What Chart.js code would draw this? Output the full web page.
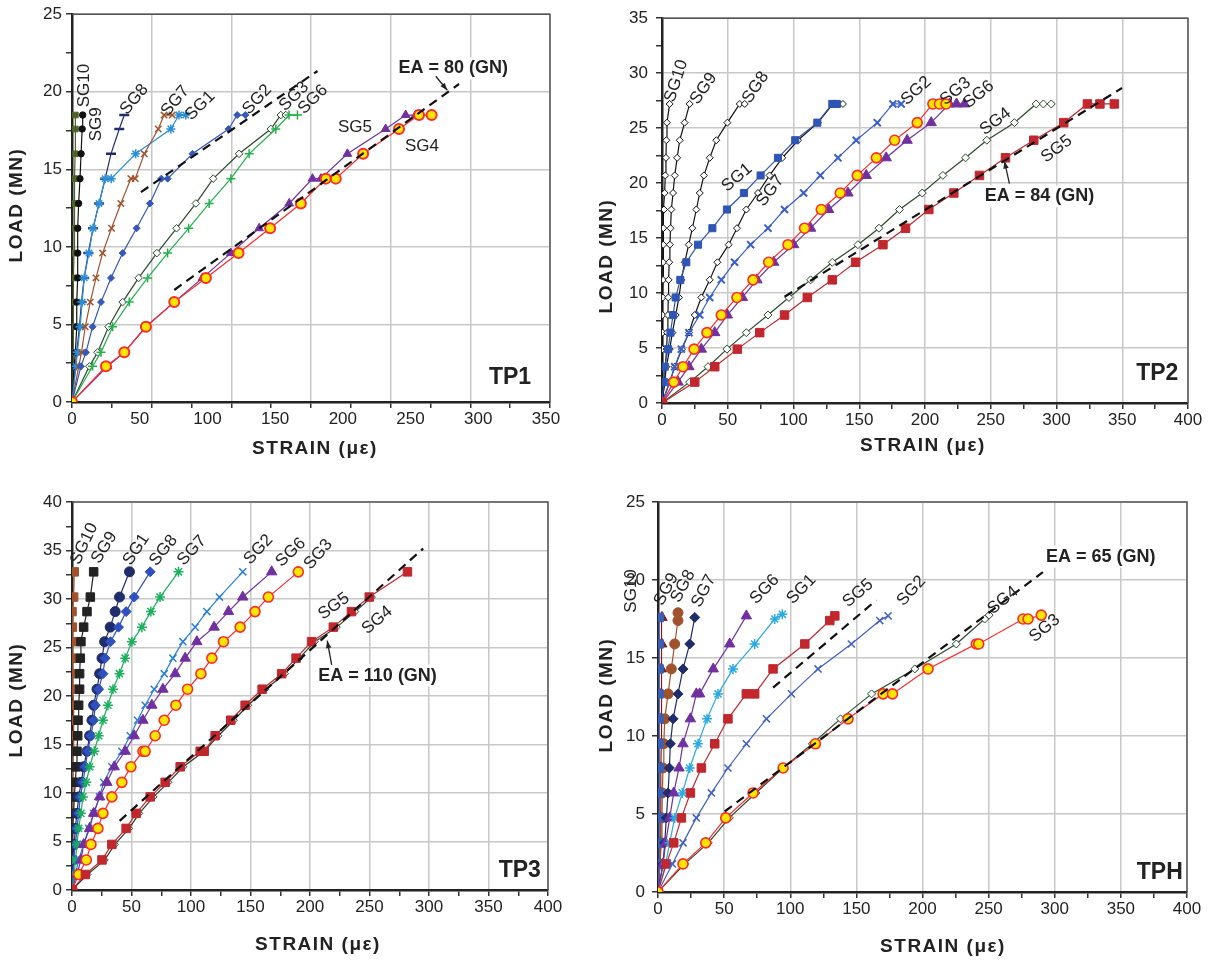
<!DOCTYPE html>
<html>
<head>
<meta charset="utf-8">
<script src="https://cdn.jsdelivr.net/npm/chart.js@4.4.1/dist/chart.umd.min.js"></script>
<style>
html, body { margin: 0; padding: 0; background: #fff; }
body { width: 1218px; height: 960px; position: relative; overflow: hidden; }
canvas { position: absolute; }
</style>
</head>
<body>
<canvas id="tp1" width="590" height="480" style="left:0px;top:0px"></canvas>
<canvas id="tp2" width="628" height="480" style="left:590px;top:0px"></canvas>
<canvas id="tp3" width="590" height="480" style="left:0px;top:480px"></canvas>
<canvas id="tph" width="628" height="480" style="left:590px;top:480px"></canvas>
<script>
// ---------- TP1 (strain in microstrain, load in MN) ----------
var tp1Load = [0, 2.3, 3.2, 4.85, 6.44, 8.0, 9.6, 11.2, 12.8, 14.4, 16.0, 17.6, 18.5];
var tp1LoadHold = [0, 2.3, 3.2, 4.85, 6.44, 8.0, 9.6, 11.2, 12.8, 14.4, 14.4, 16.0, 17.6, 18.5, 18.5];
var tp1LoadTop = [0, 2.3, 3.2, 4.85, 6.44, 8.0, 9.6, 11.2, 12.8, 14.4, 16.0, 17.6, 18.5, 18.5];
var tp1Sg10 = [0, 1, 1, 1, 1, 1.2, 1.5, 1.8, 1.8, 2, 2.3, 2.5, 2.5];
var tp1Sg9 = [0, 1.5, 2.5, 3.5, 3.5, 4.2, 4.2, 4.2, 4.9, 5.9, 6.7, 7.5, 7.9];
var tp1Sg8 = [0, 2.5, 3.5, 5.5, 7, 9, 12, 15.5, 20, 24.5, 28.8, 34.9, 38.6];
var tp1Sg1 = [0, 3, 4, 6, 7.5, 9, 12.5, 15.5, 20, 24.5, 29, 47, 73, 79, 84];
var tp1Sg7 = [0, 5, 7, 9.8, 13.5, 17.7, 22.6, 29.2, 36.1, 43.5, 46.7, 53.4, 63.7, 68, 74];
var tp1Sg2 = [0, 6.6, 10.3, 15.2, 21.4, 28.8, 37.4, 47.7, 57.5, 66, 70.6, 89, 115.6, 122, 128];
var tp1Sg3 = [0, 12.8, 18.9, 27, 37.4, 49.2, 62.7, 77.2, 91.5, 104.3, 123.4, 146.8, 154.2, 157.9];
var tp1Sg6 = [0, 15.2, 21.4, 30, 42.3, 55.8, 70.6, 86.1, 101.3, 117.3, 130.8, 150.5, 160.3, 166.5];
var tp1Sg5 = [0, 26.3, 38.6, 54.6, 75.5, 96.4, 117.3, 138.2, 160.4, 177.6, 183.8, 203.4, 231.6, 246.4, 253.8];
var tp1Sg4 = [0, 25.1, 38.6, 54.6, 75.5, 98.9, 123, 146.3, 169, 187.4, 194.8, 215, 241.5, 256.3, 265.6];
var tp1FitA = [50.9, 181.3], tp1FitALoad = [13.53, 21.34];
var tp1FitB = [75.5, 285.8], tp1FitBLoad = [7.22, 20.5];

// ---------- TP2 ----------
var tp2Load = [0, 1.9, 3.3, 4.9, 6.4, 8, 9.6, 11.2, 12.8, 14.4, 15.9, 17.6, 19.1, 20.7, 22.3, 23.9, 25.5, 27.2];
var tp2LoadTop2 = tp2Load.concat([27.2]);
var tp2LoadTop3 = tp2Load.concat([27.2, 27.2]);
var tp2Sg10 = [0, 0.3, 0.3, 0.5, 0.5, 0.5, 0.6, 0.8, 0.8, 1, 1, 1.5, 2, 2.5, 3, 3.3, 3.8, 5.8];
var tp2Sg9 = [0, 2, 2.5, 3.5, 4, 4.5, 4.8, 5, 5.5, 6, 6.5, 7.1, 8.4, 9.7, 11.5, 13.5, 17.2, 21];
var tp2Sg8 = [0, 2.05, 3.3, 5.85, 7.9, 10.4, 12.9, 14.7, 17.3, 20.3, 23.1, 26.1, 28.7, 31.9, 36.3, 41.3, 49.7, 59.1, 62.9];
var tp2Sg7 = [0, 5.85, 9.66, 15.2, 20.5, 24.9, 29.9, 36.3, 42.1, 50.7, 57, 64.1, 73, 81.8, 91.5, 103.4, 118.6, 130, 137.6];
var tp2Sg1 = [0, 1.3, 2.05, 4.6, 6.4, 8.4, 10.4, 13.9, 18.5, 27.4, 38.3, 49.4, 62.3, 75, 88.2, 101.3, 118.1, 129.5, 133];
var tp2Sg2 = [0, 5.85, 9.66, 14.7, 20.5, 28.7, 36.3, 45.1, 55.2, 67.4, 80.6, 93.2, 107.7, 120.4, 133.8, 147.7, 163.7, 175.6, 181.9];
var tp2Sg3 = [0, 8.9, 16, 24.4, 34.2, 45.1, 57, 69.2, 81.1, 95.8, 108.4, 121.1, 135.6, 148.5, 163, 176.9, 194.1, 206, 211, 216];
var tp2Sg6 = [0, 12.2, 20.5, 29.9, 40.1, 49.7, 61.1, 72.2, 84.9, 100.1, 113, 126.7, 141.4, 155.3, 170.5, 186.4, 204.7, 218.6, 224, 230];
var tp2Sg4 = [0, 21, 35, 49.4, 64.1, 80.6, 96.5, 113, 129.5, 149, 165, 180.6, 197.9, 213.6, 230.8, 247, 268, 284.5, 290, 296];
var tp2Sg5 = [0, 24.9, 40.1, 57.3, 74.3, 93.2, 110.5, 129.5, 147.2, 168, 185.2, 202.9, 221.9, 241.4, 261.2, 282.7, 305.5, 323.5, 333, 344];
var tp2Fit = [93.2, 349.8], tp2FitLoad = [9.66, 28.65];

// ---------- TP3 ----------
var tp3Load = [0, 1.6, 3.1, 4.7, 6.35, 7.9, 9.6, 11.1, 12.7, 14.3, 15.9, 17.5, 19.05, 20.7, 22.3, 23.9, 25.6, 27.1, 28.7, 30.2, 32.8];
var tp3LoadHold = [0, 1.6, 3.1, 4.7, 6.35, 7.9, 9.6, 11.1, 12.7, 14.3, 14.3, 15.9, 17.5, 19.05, 20.7, 22.3, 23.9, 25.6, 27.1, 28.7, 30.2, 32.8];
var tp3LoadSg4 = tp3Load.slice(0, 20);
var tp3Sg10 = [0, 0, 0, 0.3, 0.5, 0.5, 0.5, 0.8, 0.8, 1, 1.4, 1.4, 1.4, 0.2, 0.3, 0.3, 0.3, 0.3, 0, 1.4, 1.9];
var tp3Sg9 = [0, 0, 0, 0, 0.8, 1.4, 1.9, 2.8, 3.6, 4.2, 4.8, 5.1, 5.6, 6.4, 6.4, 7, 7.5, 9.8, 12.6, 15.4, 18.2];
var tp3Sg1 = [0, 0, 0.8, 1.9, 2.8, 4.2, 5.6, 7.8, 9.8, 12.6, 14.8, 16.8, 18.2, 21, 23.2, 25.2, 27.4, 32.1, 36.3, 39.9, 48.3];
var tp3Sg8 = [0, 0.8, 1.4, 2.8, 4.2, 5.6, 7, 9.2, 11.2, 13.2, 15.9, 18.2, 19.6, 22.4, 26, 27.9, 32.4, 39.1, 45.5, 52.3, 65.7];
var tp3Sg7 = [0, 1.9, 2.8, 4.2, 5.6, 7.5, 9.2, 12, 14.8, 18.7, 22.4, 26, 30.2, 34.4, 39.9, 44.7, 50.3, 58.7, 66.3, 74, 89.5];
var tp3Sg2 = [0, 2.8, 5.6, 9.8, 14, 18.2, 23.2, 26.6, 33.5, 41.9, 48.9, 55.1, 61.5, 69.1, 77.5, 84.8, 93.2, 103.5, 113.3, 123.9, 143.5];
var tp3Sg6 = [0, 4.2, 7.5, 9.8, 14.8, 18.2, 23.2, 29.3, 35.5, 44.7, 52.3, 59.6, 67.1, 76.4, 86.7, 95.1, 104.9, 119.4, 131.5, 143.5, 167.8];
var tp3Sg3 = [0, 5.6, 12, 15.9, 21.8, 26, 33.5, 41.9, 49.5, 59.6, 61.5, 69.9, 77.5, 87.3, 97.1, 108.3, 117.5, 127.3, 141.3, 153.8, 165, 190.2];
var tp3Sg5 = [0, 11.2, 25.2, 33.5, 45.5, 53.9, 65.7, 78.3, 90.9, 107.7, 111.1, 120.3, 133.4, 145.5, 159.8, 176.2, 188.3, 201.3, 219.6, 234.8, 249.8, 281.9];
var tp3Sg4 = [0, 13, 27.5, 36, 48, 56.5, 68.5, 81, 93.5, 111, 123, 136, 148, 162.5, 179, 191, 204, 222.5, 238, 252];
var tp3Fit = [40, 295.1], tp3FitLoad = [7.13, 35.2];

// ---------- TPH ----------
var tphLoad = [0, 1.8, 3.15, 4.75, 6.35, 7.95, 9.5, 11.1, 12.7, 14.3, 15.9, 17.6];
var tphSg10 = [0, 0.8, 0.8, 0.8, 0.8, 0.8, 0.8, 0.8, 0.8, 0.8, 0.8, 1];
var tphSg9 = [0, 1.5, 1.8, 2, 2.2, 2.2, 2.5, 2.5, 2.5, 2.5, 2.8, 3];
var tphSg7 = [0, 3.8, 5.1, 6.3, 7.6, 8.6, 9.35, 11.4, 15.1, 18.9, 24, 27.8];
var tphSg8Load = [0, 1.8, 3.15, 4.75, 6.35, 7.95, 9.5, 11.1, 12.7, 14.3, 15.9, 17.4, 17.9];
var tphSg8 = [0, 1.5, 2.5, 3, 3.3, 3.8, 4.4, 5.1, 7.6, 10.1, 12.6, 15.1, 15.1];
var tphSg6Load = [0, 1.8, 3.15, 4.75, 6.35, 7.95, 9.5, 11.1, 12.7, 12.7, 14.3, 15.9, 17.7];
var tphSg6 = [0, 3.8, 5.8, 8.85, 11.9, 15.9, 18.9, 24.5, 29, 31.5, 41.8, 54.2, 66.8];
var tphSg1Load = [0, 1.8, 3.15, 4.75, 6.35, 7.95, 9.5, 11.1, 12.7, 14.3, 15.9, 17.5, 17.8];
var tphSg1 = [0, 5.8, 8.85, 12.6, 18.4, 24, 30.3, 37.1, 45.4, 56.7, 73.1, 88.3, 94];
var tphSg5Load = [0, 1.8, 3.15, 4.75, 6.35, 7.95, 9.5, 11.1, 12.7, 12.7, 14.3, 15.9, 17.4, 17.7];
var tphSg5 = [0, 6.3, 11.9, 17.7, 24.5, 32.8, 42.9, 52.9, 66.8, 73.1, 87, 111, 129.9, 133.7];
var tphSg2Load = [0, 1.8, 3.15, 4.75, 6.35, 7.95, 9.5, 11.1, 12.7, 14.3, 15.9, 17.4, 17.7];
var tphSg2 = [0, 10.9, 18.9, 29, 40.4, 52.9, 66.8, 82, 100.9, 121, 146.2, 167.7, 174];
var tphSg3Load = [0, 1.8, 3.15, 4.75, 6.35, 7.95, 9.5, 11.1, 12.7, 12.7, 14.3, 15.9, 15.9, 17.5, 17.5, 17.75];
var tphSg3 = [0, 18.9, 36.1, 51.2, 71.9, 94.6, 119, 143.7, 170.2, 177.3, 204.2, 240.7, 242.5, 276, 279.8, 289.8];
var tphSg4Load = [0, 1.8, 3.15, 4.75, 6.35, 7.95, 9.5, 11.1, 12.7, 14.3, 15.9, 17.5, 17.75];
var tphSg4 = [0, 20.2, 38, 53.9, 74, 94.6, 116.7, 138, 161.5, 194.2, 225.6, 247, 250.4];
var tphFitA = [50.4, 291], tphFitALoad = [5.16, 20.5];
var tphFitB = [87, 165], tphFitBLoad = [13.1, 18.7];

var FONT = "'Liberation Sans', Arial, Helvetica, sans-serif";
Chart.defaults.font.family = FONT;
Chart.defaults.color = '#222';

function pts(xs, ys) {
    return xs.map(function (v, i) { return {x: v, y: ys[i]}; });
}

function series(label, xs, ys, st) {
    return {
        label: label,
        data: pts(xs, ys),
        showLine: true,
        borderColor: st.line,
        borderWidth: st.lw || 1.2,
        pointStyle: st.shape,
        pointRadius: st.r,
        pointBackgroundColor: st.fill || st.line,
        pointBorderColor: st.edge || st.line,
        pointBorderWidth: st.pw || 1
    };
}

function fit(xs, ys) {
    return {
        label: 'EA', data: pts(xs, ys), showLine: true,
        borderColor: '#111', borderWidth: 2.2, borderDash: [9, 6], pointRadius: 0
    };
}

// marker styles
var RED = '#ff2a2a';
var st = {
    olive: {line: '#4f6228', shape: 'rect', r: 4},
    blackDot: {line: '#111', shape: 'circle', r: 3.2},
    navyDash: {line: '#1f2d6b', shape: 'line', r: 5, pw: 2.5},
    brownX: {line: '#a0522d', shape: 'crossRot', r: 4.5, pw: 1.5},
    skyStar: {line: '#2a8fd8', shape: 'star', r: 4.5, pw: 1.5},
    blueDia: {line: '#3558b8', shape: 'rectRot', r: 3.5},
    openDia: {line: '#2a4a2a', shape: 'rectRot', r: 3.8, fill: '#fff'},
    greenPlus: {line: '#22b04b', shape: 'cross', r: 4.5, pw: 1.5},
    purpleTri: {line: '#7030a0', shape: 'triangle', r: 5},
    yellow: {line: RED, shape: 'circle', r: 5, fill: '#ffe600', pw: 2},
    blackOpen: {line: '#111', shape: 'rectRot', r: 3.5, fill: '#fff'},
    blueSq: {line: '#2f55b5', shape: 'rect', r: 5},
    blueX: {line: '#3a5fcd', shape: 'crossRot', r: 5, pw: 2},
    yellow2: {line: RED, shape: 'circle', r: 5, fill: '#ffe600', pw: 1.6},
    purpleBig: {line: '#7030a0', shape: 'triangle', r: 6},
    greenOpen: {line: '#2a4a2a', shape: 'rectRot', r: 4, fill: '#fff'},
    redSq: {line: '#c1272d', shape: 'rect', r: 6},
    brownSq: {line: '#a0522d', shape: 'rect', r: 6},
    blackSq: {line: '#222', shape: 'rect', r: 6},
    navyDot: {line: '#1f2d6b', shape: 'circle', r: 5},
    blueDiaBig: {line: '#3050c0', shape: 'rectRot', r: 5},
    greenStar: {line: '#1aaf5d', shape: 'star', r: 5, pw: 1.5},
    skyX: {line: '#2a7fd4', shape: 'crossRot', r: 5, pw: 1.5},
    smallOpen: {line: '#2a3a2a', shape: 'rectRot', r: 3.5, fill: '#fff'},
    hBlueSq: {line: '#3a5fb8', shape: 'rect', r: 6},
    maroonTri: {line: '#7a1e1e', shape: 'triangle', r: 6},
    brownDot: {line: '#a0522d', shape: 'circle', r: 5},
    navyDia: {line: '#1f2d6b', shape: 'rectRot', r: 5},
    skyStar2: {line: '#29abe2', shape: 'star', r: 5, pw: 1.5},
    royalX: {line: '#4060c0', shape: 'crossRot', r: 5, pw: 1.5}
};

function gridColor(c) {
    return c.tick && Math.abs(c.tick.value % 1) < 1e-6 ? '#c8c8c8' : 'rgba(0,0,0,0)';
}
function yGridColor(major) {
    return function (c) {
        return c.tick && Math.abs(c.tick.value % major) < 1e-6 ? '#c8c8c8' : 'rgba(0,0,0,0)';
    };
}

// text, arrows, frame and axis titles
function notesPlugin(cfg) {
    return {
        id: 'notes',
        afterDraw: function (chart) {
            var ctx = chart.ctx, a = chart.chartArea;
            var sx = chart.scales.x, sy = chart.scales.y;
            ctx.save();
            ctx.strokeStyle = '#555';
            ctx.lineWidth = 1.5;
            ctx.beginPath();
            ctx.moveTo(a.left, a.top);
            ctx.lineTo(a.right, a.top);
            ctx.lineTo(a.right, a.bottom);
            ctx.stroke();

            ctx.fillStyle = '#222';
            ctx.textAlign = 'center';
            ctx.textBaseline = 'middle';
            cfg.notes.forEach(function (n) {
                var px = sx.getPixelForValue(n.x), py = sy.getPixelForValue(n.y);
                ctx.save();
                ctx.translate(px, py);
                ctx.rotate((n.r || 0) * Math.PI / 180);
                if (n.kind === 'ea') {
                    ctx.font = 'bold 18px ' + FONT;
                    var w = ctx.measureText(n.t).width;
                    ctx.fillStyle = '#fff';
                    ctx.fillRect(-w / 2 - 4, -11, w + 8, 22);
                    ctx.fillStyle = '#222';
                } else if (n.kind === 'panel') {
                    ctx.font = 'bold 23px ' + FONT;
                } else {
                    ctx.font = '17px ' + FONT;
                }
                ctx.fillText(n.t, 0, 0);
                ctx.restore();
            });

            var ar = cfg.arrow;
            if (ar) {
                var x1 = sx.getPixelForValue(ar[0]), y1 = sy.getPixelForValue(ar[1]);
                var x2 = sx.getPixelForValue(ar[2]), y2 = sy.getPixelForValue(ar[3]);
                var ang = Math.atan2(y2 - y1, x2 - x1);
                ctx.strokeStyle = '#222';
                ctx.lineWidth = 1.3;
                ctx.beginPath();
                ctx.moveTo(x1, y1);
                ctx.lineTo(x2, y2);
                ctx.stroke();
                ctx.beginPath();
                ctx.moveTo(x2, y2);
                ctx.lineTo(x2 - 8 * Math.cos(ang - 0.35), y2 - 8 * Math.sin(ang - 0.35));
                ctx.lineTo(x2 - 8 * Math.cos(ang + 0.35), y2 - 8 * Math.sin(ang + 0.35));
                ctx.closePath();
                ctx.fillStyle = '#222';
                ctx.fill();
            }

            ctx.font = 'bold 19px ' + FONT;
            ctx.letterSpacing = '1.5px';
            ctx.fillText('STRAIN (\u03bc\u03b5)', cfg.xTitle[0], cfg.xTitle[1]);
            ctx.translate(cfg.yTitle[0], cfg.yTitle[1]);
            ctx.rotate(-Math.PI / 2);
            ctx.fillText('LOAD (MN)', 0, 0);
            ctx.restore();
        }
    };
}

function panel(id, cfg) {
    var canvas = document.getElementById(id);
    var W = canvas.width, H = canvas.height;
    new Chart(canvas, {
        type: 'scatter',
        data: {datasets: cfg.datasets.slice().reverse()},
        options: {
            responsive: false,
            animation: false,
            events: [],
            layout: {padding: {left: 0, top: cfg.area[1], right: W - cfg.area[2], bottom: 0}},
            plugins: {legend: {display: false}, tooltip: {enabled: false}},
            scales: {
                x: {
                    type: 'linear', position: 'bottom', weight: 1,
                    min: 0, max: cfg.xMax,
                    ticks: {
                        stepSize: 50, padding: 7, autoSkip: false, maxRotation: 0, includeBounds: false,
                        font: {size: 17}, color: '#222',
                        callback: function (v) { return v % 50 === 0 ? v : ''; }
                    },
                    grid: {display: false, drawTicks: false},
                    border: {display: false},
                    afterFit: function (s) { s.height = H - cfg.area[3]; }
                },
                xg: {
                    type: 'linear', position: 'bottom', weight: 0,
                    min: 0, max: cfg.gridDiv,
                    ticks: {display: false, stepSize: 0.5, autoSkip: false},
                    grid: {color: gridColor, lineWidth: 1.5, tickColor: '#333', tickLength: 6},
                    border: {display: true, color: '#222', width: 2.5},
                    afterFit: function (s) { s.height = 0; }
                },
                y: {
                    type: 'linear', position: 'left',
                    min: 0, max: cfg.yMax,
                    ticks: {
                        stepSize: cfg.yStep, padding: cfg.yPad, autoSkip: false,
                        font: {size: 17}, color: '#222',
                        callback: function (v) { return v % 5 === 0 ? v : ''; }
                    },
                    grid: {color: yGridColor(5), lineWidth: 1.5, tickColor: '#333', tickLength: 6},
                    border: {display: true, color: '#222', width: 2.5},
                    afterFit: function (s) { s.width = cfg.area[0]; }
                }
            }
        },
        plugins: [notesPlugin(cfg)]
    });
}

panel('tp1', {
    area: [72, 12, 550, 402], xMax: 353, gridDiv: 6, yMax: 25, yStep: 2.5, yPad: 4,
    xTitle: [315, 449], yTitle: [17, 205],
    datasets: [
        series('SG10', tp1Sg10, tp1Load, st.olive),
        series('SG9', tp1Sg9, tp1Load, st.blackDot),
        series('SG8', tp1Sg8, tp1Load, st.navyDash),
        series('SG1', tp1Sg1, tp1LoadHold, st.skyStar),
        series('SG7', tp1Sg7, tp1LoadHold, st.brownX),
        series('SG2', tp1Sg2, tp1LoadHold, st.blueDia),
        series('SG3', tp1Sg3, tp1LoadTop, st.openDia),
        series('SG6', tp1Sg6, tp1LoadTop, st.greenPlus),
        series('SG5', tp1Sg5, tp1LoadHold, st.purpleTri),
        series('SG4', tp1Sg4, tp1LoadHold, st.yellow),
        fit(tp1FitA, tp1FitALoad),
        fit(tp1FitB, tp1FitBLoad)
    ],
    notes: [
        {t: 'SG10', x: 9.1, y: 20.4, r: -90},
        {t: 'SG9', x: 18, y: 17.9, r: -90},
        {t: 'SG8', x: 46, y: 19.5, r: -50},
        {t: 'SG7', x: 76.3, y: 19.4, r: -50},
        {t: 'SG1', x: 94.7, y: 19.1, r: -45},
        {t: 'SG2', x: 136.8, y: 19.5, r: -47},
        {t: 'SG3', x: 164, y: 19.7, r: -45},
        {t: 'SG6', x: 178, y: 19.5, r: -45},
        {t: 'SG5', x: 209, y: 17.7},
        {t: 'SG4', x: 258.5, y: 16.5},
        {t: 'EA = 80 (GN)', x: 281.5, y: 21.5, kind: 'ea'},
        {t: 'TP1', x: 323.5, y: 1.6, kind: 'panel'}
    ],
    arrow: [268.6, 21.0, 277.2, 20.1]
});

panel('tp2', {
    area: [72, 12, 598, 403], xMax: 400, gridDiv: 8, yMax: 35, yStep: 2.5, yPad: 8,
    xTitle: [333, 446], yTitle: [17, 256],
    datasets: [
        series('SG10', tp2Sg10, tp2Load, st.blackOpen),
        series('SG9', tp2Sg9, tp2Load, st.blackOpen),
        series('SG8', tp2Sg8, tp2LoadTop2, st.blackOpen),
        series('SG7', tp2Sg7, tp2LoadTop2, st.blackOpen),
        series('SG1', tp2Sg1, tp2LoadTop2, st.blueSq),
        series('SG2', tp2Sg2, tp2LoadTop2, st.blueX),
        series('SG6', tp2Sg6, tp2LoadTop3, st.purpleBig),
        series('SG3', tp2Sg3, tp2LoadTop3, st.yellow2),
        series('SG4', tp2Sg4, tp2LoadTop3, st.greenOpen),
        series('SG5', tp2Sg5, tp2LoadTop3, st.redSq),
        fit(tp2Fit, tp2FitLoad)
    ],
    notes: [
        {t: 'SG10', x: 10.9, y: 29.3, r: -72},
        {t: 'SG9', x: 31.7, y: 28.6, r: -55},
        {t: 'SG8', x: 71.2, y: 28.7, r: -56},
        {t: 'SG1', x: 57, y: 20.5, r: -40},
        {t: 'SG7', x: 82.4, y: 19.3, r: -53},
        {t: 'SG2', x: 193.3, y: 28.4, r: -42},
        {t: 'SG3', x: 223.2, y: 28.35, r: -39},
        {t: 'SG6', x: 240.9, y: 28.06, r: -39},
        {t: 'SG4', x: 253.6, y: 25.6, r: -37},
        {t: 'SG5', x: 300.2, y: 23.1, r: -37},
        {t: 'EA = 84 (GN)', x: 287, y: 18.8, kind: 'ea'},
        {t: 'TP2', x: 376.6, y: 2.7, kind: 'panel'}
    ],
    arrow: [264.2, 19.95, 260.4, 22.0]
});

panel('tp3', {
    area: [72, 22, 548, 410], xMax: 400, gridDiv: 8, yMax: 40, yStep: 2.5, yPad: 4,
    xTitle: [318, 465], yTitle: [17, 220],
    datasets: [
        series('SG10', tp3Sg10, tp3Load, st.brownSq),
        series('SG9', tp3Sg9, tp3Load, st.blackSq),
        series('SG1', tp3Sg1, tp3Load, st.navyDot),
        series('SG8', tp3Sg8, tp3Load, st.blueDiaBig),
        series('SG7', tp3Sg7, tp3Load, st.greenStar),
        series('SG2', tp3Sg2, tp3Load, st.skyX),
        series('SG6', tp3Sg6, tp3Load, st.purpleBig),
        series('SG3', tp3Sg3, tp3LoadHold, st.yellow2),
        series('SG4', tp3Sg4, tp3LoadSg4, st.smallOpen),
        series('SG5', tp3Sg5, tp3LoadHold, st.redSq),
        fit(tp3Fit, tp3FitLoad)
    ],
    notes: [
        {t: 'SG10', x: 10.3, y: 35.7, r: -65},
        {t: 'SG9', x: 27.1, y: 35.3, r: -58},
        {t: 'SG1', x: 54, y: 35.1, r: -56},
        {t: 'SG8', x: 76.9, y: 35.0, r: -51},
        {t: 'SG7', x: 100.7, y: 35.0, r: -47},
        {t: 'SG2', x: 156.6, y: 35.1, r: -47},
        {t: 'SG6', x: 183.8, y: 34.8, r: -43},
        {t: 'SG3', x: 207, y: 34.6, r: -49},
        {t: 'SG5', x: 220.1, y: 29.25, r: -36},
        {t: 'SG4', x: 256.5, y: 27.8, r: -40},
        {t: 'EA = 110 (GN)', x: 256.8, y: 22.1, kind: 'ea'},
        {t: 'TP3', x: 376.3, y: 1.96, kind: 'panel'}
    ],
    arrow: [218.2, 23.2, 214.5, 25.7]
});

panel('tph', {
    area: [68, 22, 597, 412], xMax: 400, gridDiv: 8, yMax: 25, yStep: 5, yPad: 7,
    xTitle: [353, 467], yTitle: [17, 215],
    datasets: [
        series('SG9', tphSg9, tphLoad, st.maroonTri),
        series('SG8', tphSg8, tphSg8Load, st.brownDot),
        series('SG10', tphSg10, tphLoad, st.hBlueSq),
        series('SG7', tphSg7, tphLoad, st.navyDia),
        series('SG6', tphSg6, tphSg6Load, st.purpleBig),
        series('SG1', tphSg1, tphSg1Load, st.skyStar2),
        series('SG5', tphSg5, tphSg5Load, st.redSq),
        series('SG2', tphSg2, tphSg2Load, st.royalX),
        series('SG4', tphSg4, tphSg4Load, st.greenOpen),
        series('SG3', tphSg3, tphSg3Load, st.yellow2),
        fit(tphFitA, tphFitALoad),
        fit(tphFitB, tphFitBLoad)
    ],
    notes: [
        {t: 'SG10', x: -19.9, y: 19.3, r: -90},
        {t: 'SG9', x: 6.3, y: 19.4, r: -62},
        {t: 'SG8', x: 18.9, y: 19.6, r: -62},
        {t: 'SG7', x: 34.6, y: 19.3, r: -62},
        {t: 'SG6', x: 80.7, y: 19.4, r: -46},
        {t: 'SG1', x: 108.4, y: 19.4, r: -46},
        {t: 'SG5', x: 151.2, y: 19.15, r: -40},
        {t: 'SG2', x: 191.6, y: 19.3, r: -48},
        {t: 'SG4', x: 260.9, y: 18.7, r: -39},
        {t: 'SG3', x: 292.4, y: 16.9, r: -39},
        {t: 'EA = 65 (GN)', x: 334.7, y: 21.5, kind: 'ea'},
        {t: 'TPH', x: 379.4, y: 1.25, kind: 'panel'}
    ],
    arrow: null
});
</script>
</body>
</html>
